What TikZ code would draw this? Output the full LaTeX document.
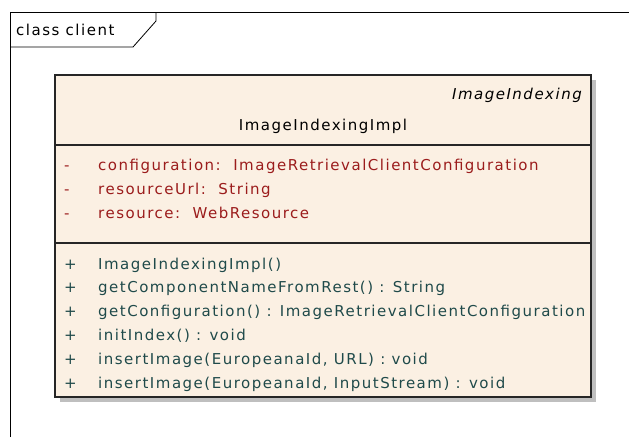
\documentclass[tikz,border=0pt]{standalone}
\usepackage{fontspec}
\setmainfont{DejaVu Sans}
\newfontfamily\umlfont[LetterSpace=10]{DejaVu Sans}
\usepackage{xcolor}
\usepackage{tikz}
\usetikzlibrary{positioning,shadows}
\definecolor{boxfill}{HTML}{FBF0E3}
\definecolor{attrred}{HTML}{9B1C1C}
\definecolor{opteal}{HTML}{1F4A4A}

\begin{document}
\begin{tikzpicture}[x=1pt,y=-1pt,
  frameline/.style={draw=black,line width=0.8pt},
  classbox/.style={draw=black!85,line width=1.4pt,fill=boxfill,
                   minimum width=536pt,minimum height=322pt,inner sep=0pt,
                   drop shadow={shadow xshift=5pt,shadow yshift=-5pt,fill=black!25,opacity=1}},
  sep/.style={draw=black!85,line width=1.2pt},
  txt/.style={anchor=base west,inner sep=0pt,font=\umlfont\fontsize{15}{17}\selectfont},
  attr/.style={txt,text=attrred},
  oper/.style={txt,text=opteal}
]
\useasboundingbox (0,0) rectangle (629,437);

% frame with name tab
\draw[frameline] (10,437) -- (10,12) -- (629,12);
\node[txt] (frametitle) at (16,35) {class client};
\draw[frameline] (10,47) -- (133,47) -- (156,21) -- (156,12);

% class
\node[classbox] (cls) at (323,236) {};
\draw[sep] (cls.west |- 0,145) -- (cls.east |- 0,145);
\draw[sep] (cls.west |- 0,243) -- (cls.east |- 0,243);

\node[txt,anchor=base east,font=\umlfont\fontsize{15}{17}\selectfont\itshape] (iface) at (582,99) {ImageIndexing};
\node[txt,anchor=base] (cname) at (323,130) {ImageIndexingImpl};

\node[attr] (a1m) at (64,170) {-};
\node[attr] (a1) at (98,170) {configuration:\ \ ImageRetrievalClientConfiguration};
\node[attr] (a2m) at (64,194) {-};
\node[attr] (a2) at (98,194) {resourceUrl:\ \ String};
\node[attr] (a3m) at (64,218) {-};
\node[attr] (a3) at (98,218) {resource:\ \ WebResource};

\node[oper] (o1m) at (64,269) {+};
\node[oper] (o1) at (98,269) {ImageIndexingImpl()};
\node[oper] (o2m) at (64,292) {+};
\node[oper] (o2) at (98,292) {getComponentNameFromRest() : String};
\node[oper] (o3m) at (64,316) {+};
\node[oper] (o3) at (98,316) {getConfiguration() : ImageRetrievalClientConfiguration};
\node[oper] (o4m) at (64,340) {+};
\node[oper] (o4) at (98,340) {initIndex() : void};
\node[oper] (o5m) at (64,364) {+};
\node[oper] (o5) at (98,364) {insertImage(EuropeanaId, URL) : void};
\node[oper] (o6m) at (64,388) {+};
\node[oper] (o6) at (98,388) {insertImage(EuropeanaId, InputStream) : void};
\end{tikzpicture}
\end{document}
